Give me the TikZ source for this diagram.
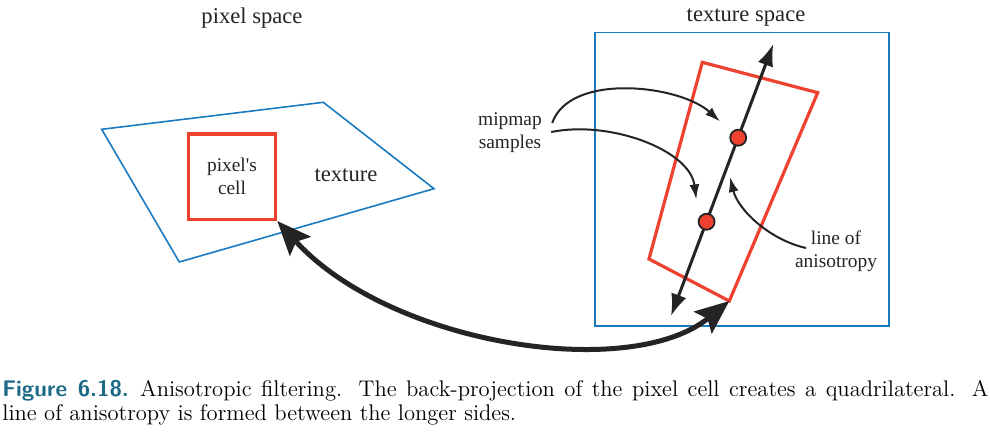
\documentclass[tikz,border=0pt]{standalone}
\usepackage{fontspec}
\usepackage{tikz}
\usetikzlibrary{arrows.meta,positioning}
\newfontfamily\tmsfont{Liberation Serif}
\definecolor{texblue}{HTML}{1B7BC0}
\definecolor{cellred}{HTML}{EE4130}
\definecolor{inkgray}{HTML}{262324}
\definecolor{capteal}{HTML}{1D6A87}

\begin{document}
\begin{tikzpicture}[x=0.5pt,y=-0.5pt,>=latex]
\tikzstyle{lbl}=[font=\tmsfont\fontsize{11.3}{11.6}\selectfont, text=inkgray, align=center, inner sep=0pt]
\tikzstyle{smalllbl}=[lbl, font=\tmsfont\fontsize{9.7}{11.5}\selectfont]
\tikzstyle{quad}=[draw=texblue, line width=0.8pt]
\tikzstyle{cell}=[draw=cellred, line width=1.6pt]
\tikzstyle{pointer}=[draw=inkgray, line width=1pt, -{Latex[length=7.5pt,width=5pt]}]
\tikzstyle{sample}=[circle, draw=inkgray, fill=cellred, line width=0.9pt, minimum size=8pt, inner sep=0pt]
\tikzstyle{bigarrow}=[draw=inkgray, line width=2.5pt, {Stealth[length=17pt,width=14pt,inset=3pt]}-{Stealth[length=17pt,width=14pt,inset=3pt]}]
\useasboundingbox (0,0) rectangle (990,434);

% pixel space
\node[lbl] (pixtitle) at (252,18) {pixel space};
\coordinate (q1) at (101.7,129.3);
\coordinate (q2) at (323.3,102.3);
\coordinate (q3) at (434,188.7);
\coordinate (q4) at (179.3,262);
\draw[quad] (q1) -- (q2) -- (q3) -- (q4) -- cycle;
\node[smalllbl, cell, minimum width=43.7pt, minimum height=42.7pt] (pixcell) at (232,176.7) {pixel's\\cell};
\node[lbl] (texlbl) at (346,175) {texture};

% texture space
\node[lbl] (textitle) at (746,18) {texture space};
\draw[quad] (595,32.5) rectangle (889,325.7);
\coordinate (r1) at (702.3,62.3);
\coordinate (r2) at (817.7,92.7);
\coordinate (r3) at (729.3,301);
\coordinate (r4) at (649,259);
\draw[cell, line join=miter] (r1) -- (r2) -- (r3) -- (r4) -- cycle;

% line of anisotropy
\coordinate (alo) at (671,316);
\coordinate (ahi) at (773.3,44);
\draw[draw=inkgray, line width=1.5pt, {Latex[length=11pt,width=8pt]}-{Latex[length=11pt,width=8pt]}] (alo) -- (ahi);
\node[sample] (s1) at (738.2,137.7) {};
\node[sample] (s2) at (706.6,221.7) {};

\node[smalllbl] (mip) at (510,133) {mipmap\\samples};
\node[smalllbl] (loa) at (836,251.5) {line of\\anisotropy};
\coordinate (loafrom) at (806,248);

\draw[pointer] ([xshift=5pt,yshift=5pt]mip.east) .. controls (570,72) and (680,85) .. ([xshift=-6pt,yshift=5pt]s1.north west);
\draw[pointer] ([xshift=4.5pt,yshift=0.5pt]mip.east) .. controls (610,120) and (690,150) .. ([xshift=-2pt,yshift=8pt]s2.north west);
\draw[pointer] (loafrom) .. controls (770,240) and (738,210) .. (730,177);

% back-projection
\draw[bigarrow] (pixcell.south east) .. controls (390,345) and (630,382) .. (r3);

% caption
\node[anchor=north west, text width=493pt, align=justify, inner sep=0pt, font=\fontsize{11.3}{12}\selectfont] (caption) at (2,380)
  {{\sffamily\bfseries\color{capteal}Figure 6.18.}\enskip Anisotropic filtering. The back-projection of the pixel cell creates a quadrilateral. A\linebreak
  line of anisotropy is formed between the longer sides.};
\end{tikzpicture}
\end{document}
